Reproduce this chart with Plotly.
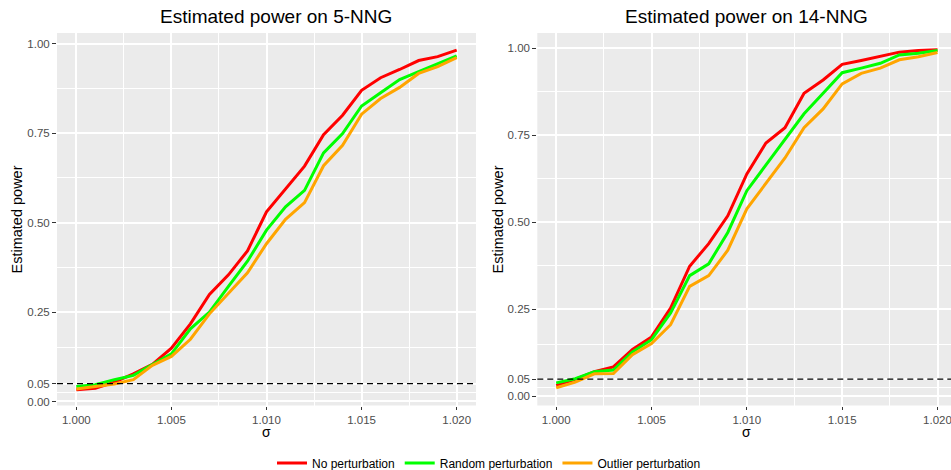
import plotly.graph_objects as go

sigma = [1.000, 1.001, 1.002, 1.003, 1.004, 1.005, 1.006, 1.007, 1.008, 1.009, 1.010,
         1.011, 1.012, 1.013, 1.014, 1.015, 1.016, 1.017, 1.018, 1.019, 1.020]

# 5-NNG
nng5_none = [0.033, 0.037, 0.054, 0.077, 0.104, 0.149, 0.217, 0.299, 0.354, 0.421, 0.530,
             0.595, 0.658, 0.746, 0.800, 0.870, 0.905, 0.928, 0.953, 0.964, 0.982]
nng5_random = [0.042, 0.047, 0.061, 0.073, 0.103, 0.133, 0.203, 0.250, 0.322, 0.392, 0.479,
               0.544, 0.590, 0.695, 0.749, 0.826, 0.863, 0.900, 0.922, 0.945, 0.966]
nng5_outlier = [0.035, 0.042, 0.049, 0.061, 0.101, 0.126, 0.174, 0.245, 0.301, 0.360, 0.441,
                0.509, 0.556, 0.659, 0.716, 0.803, 0.847, 0.878, 0.917, 0.936, 0.961]

# 14-NNG
nng14_none = [0.032, 0.049, 0.071, 0.085, 0.135, 0.171, 0.254, 0.374, 0.439, 0.519, 0.639,
              0.728, 0.772, 0.871, 0.909, 0.954, 0.965, 0.976, 0.989, 0.994, 0.996]
nng14_random = [0.039, 0.051, 0.071, 0.076, 0.128, 0.163, 0.240, 0.347, 0.381, 0.471, 0.591,
                0.665, 0.737, 0.812, 0.871, 0.930, 0.943, 0.957, 0.981, 0.986, 0.994]
nng14_outlier = [0.025, 0.041, 0.065, 0.066, 0.120, 0.152, 0.206, 0.316, 0.347, 0.420, 0.539,
                 0.611, 0.685, 0.772, 0.826, 0.898, 0.928, 0.943, 0.967, 0.976, 0.988]

series_names = ["No perturbation", "Random perturbation", "Outlier perturbation"]
series_colors = ["#FF0000", "#00FF00", "#FFA500"]

titles = ["Estimated power on 5-NNG", "Estimated power on 14-NNG"]
x_ticks = [1.000, 1.005, 1.010, 1.015, 1.020]
x_ticktext = ["1.000", "1.005", "1.010", "1.015", "1.020"]
x_minor = [1.0025, 1.0075, 1.0125, 1.0175]
y_ticks = [0.0, 0.05, 0.25, 0.50, 0.75, 1.00]
y_ticktext = ["0.00", "0.05", "0.25", "0.50", "0.75", "1.00"]
y_minor = [0.025, 0.15, 0.375, 0.625, 0.875]
alpha_level = 0.05

W, H = 951, 470
FONT = "Liberation Sans, Arial, sans-serif"

fig = go.Figure()

panels = [
    (nng5_none, nng5_random, nng5_outlier),
    (nng14_none, nng14_random, nng14_outlier),
]

for p, data in enumerate(panels):
    xa = "x" if p == 0 else "x2"
    ya = "y" if p == 0 else "y2"
    for name, color, vals in zip(series_names, series_colors, data):
        fig.add_trace(go.Scatter(
            x=sigma, y=vals, mode="lines", name=name,
            line=dict(color=color, width=3),
            xaxis=xa, yaxis=ya, showlegend=(p == 0), legendgroup=name,
        ))
    fig.add_shape(type="line", xref=f"{xa} domain", yref=ya,
                  x0=0, x1=1, y0=alpha_level, y1=alpha_level,
                  line=dict(color="black", width=1.3, dash="6px,4px"), layer="above")

def px_x(v):
    return v / W

def px_y(v):
    return 1 - v / H

common_x = dict(
    tickmode="array", tickvals=x_ticks, ticktext=x_ticktext,
    showgrid=True, gridcolor="white", gridwidth=1.6, zeroline=False,
    ticks="outside", ticklen=3.5, tickwidth=1, tickcolor="#333333",
    tickfont=dict(size=11.5, color="#4D4D4D", family=FONT),
    ticklabeloverflow="allow", automargin=False,
    minor=dict(tickmode="array", tickvals=x_minor, showgrid=True,
               gridcolor="white", gridwidth=0.7),
    showline=False,
)
common_y = dict(
    tickmode="array", tickvals=y_ticks, ticktext=y_ticktext,
    showgrid=True, gridcolor="white", gridwidth=1.6, zeroline=False,
    ticks="outside", ticklen=4, tickwidth=1, tickcolor="#333333",
    tickfont=dict(size=11.5, color="#4D4D4D", family=FONT),
    ticklabeloverflow="allow", automargin=False,
    minor=dict(tickmode="array", tickvals=y_minor, showgrid=True,
               gridcolor="white", gridwidth=0.7),
    showline=False,
)

y_bottom = px_y(405.5)
y_top = px_y(33)

fig.update_layout(
    width=W, height=H,
    margin=dict(l=0, r=0, t=0, b=0, autoexpand=False),
    paper_bgcolor="white", plot_bgcolor="#EBEBEB",
    font=dict(family=FONT, color="black"),
    xaxis=dict(domain=[px_x(57), px_x(476)], range=[0.998985, 1.021015], anchor="y", **common_x),
    yaxis=dict(domain=[y_bottom, y_top], range=[-0.0112, 1.030], anchor="x", **common_y),
    xaxis2=dict(domain=[px_x(537.3), 1.0], range=[0.999009, 1.020708], anchor="y2", **common_x),
    yaxis2=dict(domain=[y_bottom, y_top], range=[-0.026, 1.044], anchor="x2", **common_y),
    legend=dict(orientation="h", x=px_x(489), xanchor="center", y=px_y(463), yanchor="middle",
                font=dict(size=12, color="black", family=FONT), bgcolor="rgba(0,0,0,0)",
                tracegroupgap=0, itemwidth=30),
    showlegend=True,
)

annotations = []
title_centers = [276, 746.5]
for t, cx in zip(titles, title_centers):
    annotations.append(dict(text=t, x=px_x(cx), y=px_y(16), xref="paper", yref="paper",
                            showarrow=False, xanchor="center", yanchor="middle",
                            font=dict(size=19, color="black", family=FONT)))
for cx in [266.5, 746.5]:
    annotations.append(dict(text="σ", x=px_x(cx), y=px_y(432), xref="paper", yref="paper",
                            showarrow=False, xanchor="center", yanchor="middle",
                            font=dict(size=14, color="black", family=FONT)))
for cx in [16, 497]:
    annotations.append(dict(text="Estimated power", x=px_x(cx), y=px_y(219.5), xref="paper",
                            yref="paper", showarrow=False, textangle=-90,
                            xanchor="center", yanchor="middle",
                            font=dict(size=14.5, color="black", family=FONT)))
fig.update_layout(annotations=annotations)

fig.write_html("out.html", post_script="document.body.style.margin='0px';",
               config={"displayModeBar": False})
